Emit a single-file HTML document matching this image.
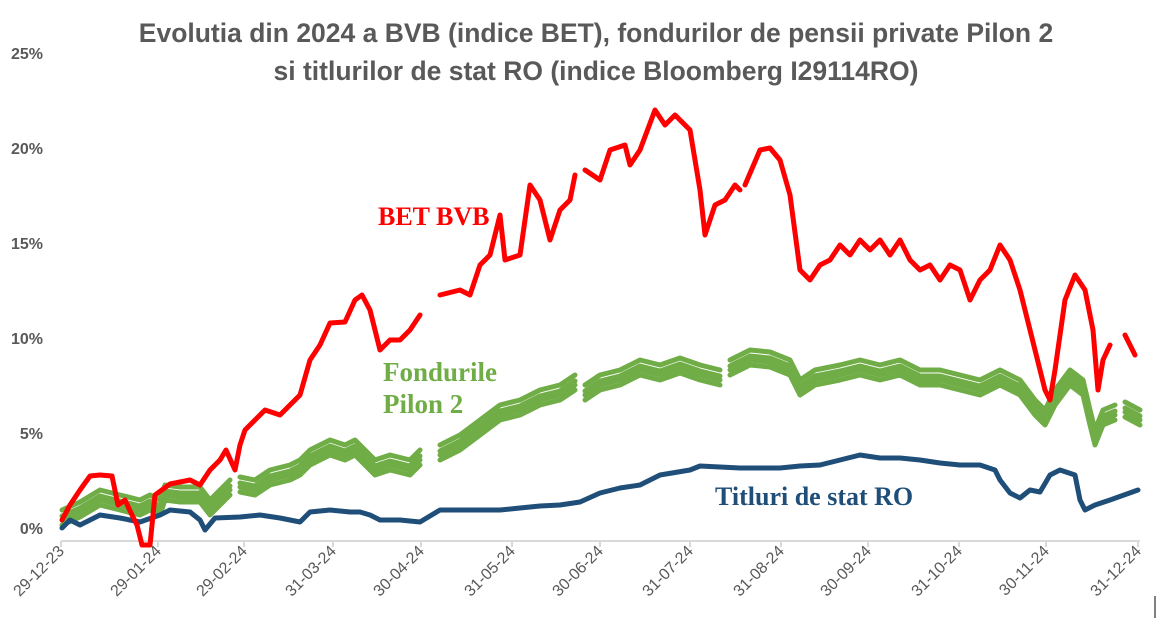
<!DOCTYPE html><html><head><style>body{margin:0;background:#fff}svg{display:block}</style></head><body>
<svg width="1167" height="624" xmlns="http://www.w3.org/2000/svg" font-family="Liberation Sans, sans-serif">
<rect width="1167" height="624" fill="#fff"/>
<g font-weight="bold" font-size="26.5" fill="#595959" text-anchor="middle"><text x="596" y="42">Evolutia din 2024 a BVB (indice BET), fondurilor de pensii private Pilon 2</text><text x="596" y="80">si titlurilor de stat RO (indice Bloomberg I29114RO)</text></g>
<g font-size="16" font-weight="bold" fill="#595959" text-anchor="end"><text x="43" y="534">0%</text><text x="43" y="439">5%</text><text x="43" y="344">10%</text><text x="43" y="249">15%</text><text x="43" y="154">20%</text><text x="43" y="59">25%</text></g>
<line x1="61" y1="541" x2="1140" y2="541" stroke="#d9d9d9" stroke-width="2"/>
<g stroke="#d9d9d9" stroke-width="2"><line x1="61" y1="541" x2="61" y2="547"/><line x1="158" y1="541" x2="158" y2="547"/><line x1="244" y1="541" x2="244" y2="547"/><line x1="333" y1="541" x2="333" y2="547"/><line x1="421" y1="541" x2="421" y2="547"/><line x1="512" y1="541" x2="512" y2="547"/><line x1="600" y1="541" x2="600" y2="547"/><line x1="690" y1="541" x2="690" y2="547"/><line x1="781" y1="541" x2="781" y2="547"/><line x1="868" y1="541" x2="868" y2="547"/><line x1="959" y1="541" x2="959" y2="547"/><line x1="1046" y1="541" x2="1046" y2="547"/><line x1="1138" y1="541" x2="1138" y2="547"/></g>
<g font-size="16" fill="#595959" text-anchor="end">
<text transform="translate(65,552) rotate(-45)">29-12-23</text><text transform="translate(162,552) rotate(-45)">29-01-24</text><text transform="translate(248,552) rotate(-45)">29-02-24</text><text transform="translate(337,552) rotate(-45)">31-03-24</text><text transform="translate(425,552) rotate(-45)">30-04-24</text><text transform="translate(516,552) rotate(-45)">31-05-24</text><text transform="translate(604,552) rotate(-45)">30-06-24</text><text transform="translate(694,552) rotate(-45)">31-07-24</text><text transform="translate(785,552) rotate(-45)">31-08-24</text><text transform="translate(872,552) rotate(-45)">30-09-24</text><text transform="translate(963,552) rotate(-45)">31-10-24</text><text transform="translate(1050,552) rotate(-45)">30-11-24</text><text transform="translate(1142,552) rotate(-45)">31-12-24</text></g>
<line x1="1155" y1="596" x2="1155" y2="618" stroke="#000" stroke-width="1"/>
<g fill="none" stroke-linejoin="round" stroke-linecap="round">
<g stroke="#70ad47" stroke-width="5">
<g id="gr"><polyline points="62,520 80,512 100,500 120,505 140,510 150,505 160,510 165,495 180,497 200,497 210,510 220,500 230,490"/><polyline points="240,487 255,490 270,480 290,475 300,470 310,460 320,455 330,450 345,455 355,450 365,460 375,470 390,465 410,470 420,460"/><polyline points="440,455 460,445 480,430 500,415 520,410 540,400 560,395 575,385"/><polyline points="585,395 600,385 620,380 640,370 660,375 680,368 700,375 720,380"/><polyline points="730,370 750,360 770,362 790,370 800,390 815,380 840,375 860,370 880,375 900,370 920,380 940,380 960,385 980,390 1000,380 1020,390 1035,410 1045,420 1055,400 1070,380 1083,390 1090,420 1095,440 1103,420 1115,415"/><polyline points="1125,412 1140,420"/></g>
<use href="#gr" transform="translate(0,-10)"/><use href="#gr" transform="translate(0,-4)"/><use href="#gr" transform="translate(0,5)"/></g>
<polyline stroke="#1f4e79" stroke-width="5" points="62,528 70,520 80,525 90,520 100,515 120,518 140,522 160,515 170,510 190,512 200,520 205,530 215,518 240,517 260,515 280,518 300,522 310,512 330,510 350,512 360,512 370,515 380,520 400,520 420,522 440,510 460,510 480,510 500,510 520,508 540,506 560,505 580,502 600,493 620,488 640,485 660,475 690,470 700,466 720,467 740,468 780,468 800,466 820,465 840,460 860,455 880,458 900,458 920,460 940,463 960,465 980,465 995,470 1000,480 1010,493 1020,498 1030,490 1040,492 1050,475 1060,470 1075,475 1080,500 1085,510 1095,505 1110,500 1138,490"/>
<g stroke="#ff0000" stroke-width="5">
<polyline points="62,520 70,505 80,490 90,476 100,475 112,476 118,505 125,500 132,515 137,525 142,545 150,545 155,495 170,484 190,480 200,485 210,470 220,460 226,450 235,470 240,445 245,430 255,420 265,410 280,415 290,405 300,395 310,360 320,345 330,323 345,322 355,300 362,295 370,310 380,350 390,340 400,340 410,330 420,315"/>
<polyline points="440,295 460,290 470,295 480,265 490,255 500,215 505,260 520,255 530,185 540,200 550,240 560,210 570,200 575,175"/><polyline points="585,170 600,180 610,150 625,145 630,165 640,150 655,110 665,125 675,115 690,130 700,190 705,235 715,205 725,200 735,185 740,190"/><polyline points="745,185 760,150 770,148 780,160 790,195 800,270 810,280 820,265 830,260 840,245 850,255 860,240 870,250 880,240 890,255 900,240 910,260 920,270 930,265 940,280 950,265 960,270 970,300 980,280 990,270 1000,245 1010,260 1020,290 1030,330 1040,370 1045,390 1050,400 1055,370 1065,300 1075,275 1085,290 1093,330 1098,390 1103,360 1110,345"/><polyline points="1125,335 1135,355"/></g></g>
<g font-family="Liberation Serif, serif" font-weight="bold">
<text x="378" y="225" fill="#ff0000" font-size="26">BET BVB</text>
<text x="383" y="381" fill="#70ad47" font-size="27">Fondurile</text><text x="383" y="413" fill="#70ad47" font-size="27">Pilon 2</text>
<text x="715" y="505" fill="#1f4e79" font-size="26">Titluri de stat RO</text></g>
</svg></body></html>
